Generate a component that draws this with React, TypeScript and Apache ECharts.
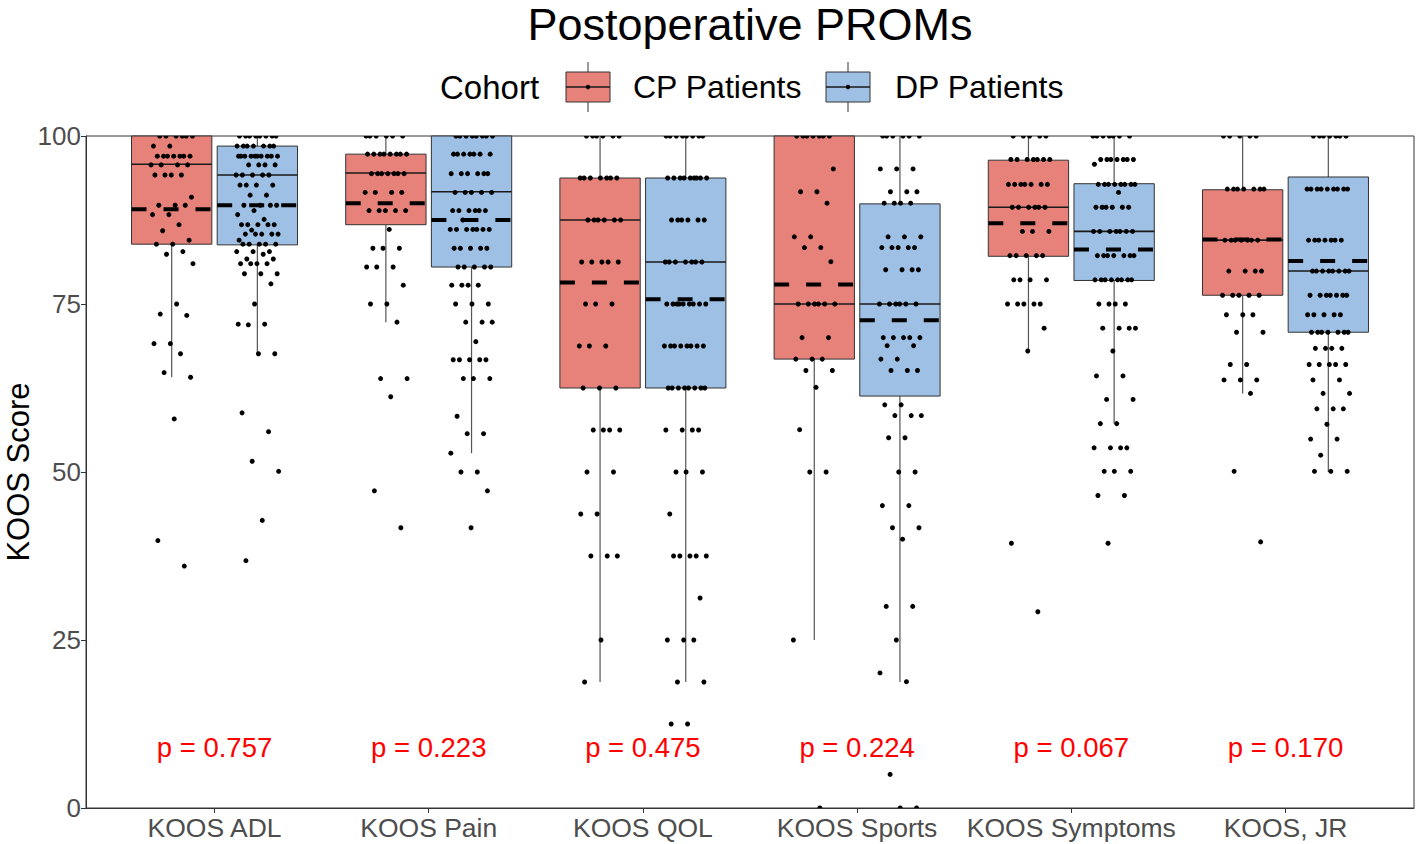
import React, { useEffect, useRef } from "react";
import * as echarts from "echarts";

const categories = ["KOOS ADL", "KOOS Pain", "KOOS QOL", "KOOS Sports", "KOOS Symptoms", "KOOS, JR"];
const cohorts = ["CP Patients", "DP Patients"];
const pValues = ["0.757", "0.223", "0.475", "0.224", "0.067", "0.170"];
const yTicks = [0, 25, 50, 75, 100];

// box statistics: [lower whisker, Q1, median, Q3, upper whisker]
const cpBox = [
  [64.1, 83.9, 95.8, 100, 100],
  [72.3, 86.8, 94.5, 97.3, 100],
  [18.75, 62.5, 87.5, 93.75, 100],
  [25, 66.8, 75, 100, 100],
  [68.0, 82.1, 89.4, 96.4, 100],
  [61.7, 76.3, 84.5, 92.0, 100],
];
const dpBox = [
  [67.7, 83.8, 94.2, 98.5, 100],
  [52.8, 80.5, 91.7, 100, 100],
  [18.75, 62.5, 81.25, 93.75, 100],
  [18.75, 61.3, 75, 89.9, 100],
  [57.2, 78.5, 85.8, 92.9, 100],
  [50, 70.8, 79.9, 93.9, 100],
];
const cpMean = [89.1, 90.0, 78.2, 77.9, 87.0, 84.6];
const dpMean = [89.7, 87.5, 75.7, 72.6, 83.1, 81.4];

// individual (jittered) patient scores
const adlCP = [100, 100, 100, 100, 100, 100, 98.5, 98.5, 97, 97, 97, 97, 97, 97, 97, 95.7, 95.7, 95.7, 95.7, 94.2, 94.2, 94.2, 94.2, 90.9, 89.7, 89.7, 89.7, 88.3, 88.3, 86.8, 85.9, 84.5, 83.9, 83.9, 82.8, 82.4, 81, 75, 73.5, 73.3, 69.1, 69.1, 67.6, 64.8, 64.1, 57.9, 39.8, 36];
const adlDP = [100, 100, 100, 100, 100, 100, 100, 100, 98.5, 98.5, 98.5, 98.5, 98.5, 98.5, 98.5, 97, 97, 97, 97, 97, 97, 97, 97, 97, 97, 95.7, 95.7, 95.7, 95.7, 94.2, 94.2, 94.2, 94.2, 94.2, 92.7, 92.7, 92.7, 92.7, 91.2, 91.2, 89.7, 89.7, 89.7, 89.7, 88.9, 88.3, 87.6, 86.8, 86.8, 86.8, 86.8, 86.8, 86, 85.4, 85.4, 85.4, 85.4, 85.4, 84.5, 83.9, 83.9, 83.9, 83.9, 83.9, 82.8, 82.8, 82.8, 82.4, 81.7, 81.7, 81, 81, 81, 81, 79.5, 79.5, 79.5, 78, 75, 72, 72, 71.9, 67.6, 67.6, 58.8, 56, 51.6, 50.1, 42.8, 36.8];
const painCP = [100, 100, 100, 100, 100, 100, 97.3, 97.3, 97.3, 97.3, 97.3, 97.3, 97.3, 97.3, 94.4, 94.4, 94.4, 94.4, 94.4, 94.4, 94.4, 91.6, 91.6, 91.6, 91.6, 88.9, 88.9, 88.9, 88.9, 88.9, 86.1, 83.3, 83.3, 83.3, 80.5, 80.5, 80.5, 77.8, 75, 75, 72.3, 63.9, 63.9, 61.2, 47.2, 41.7];
const painDP = [100, 100, 100, 100, 100, 100, 100, 100, 97.3, 97.3, 97.3, 97.3, 97.3, 97.3, 97.3, 94.4, 94.4, 94.4, 94.4, 94.4, 94.4, 91.6, 91.6, 91.6, 91.6, 91.6, 88.9, 88.9, 88.9, 88.9, 88.9, 88.9, 87.5, 86.1, 86.1, 86.1, 86.1, 86.1, 86.1, 86.1, 83.3, 83.3, 83.3, 83.3, 83.3, 80.5, 80.5, 80.5, 80.5, 80.5, 77.8, 77.8, 77.8, 77.8, 75, 75, 75, 72.3, 72.3, 72.3, 69.4, 66.7, 66.7, 66.7, 66.7, 66.7, 63.9, 63.9, 63.9, 58.3, 55.7, 55.7, 52.8, 50, 50, 47.2, 41.7];
const qolCP = [100, 100, 100, 100, 100, 100, 93.75, 93.75, 93.75, 93.75, 93.75, 93.75, 93.75, 87.5, 87.5, 87.5, 87.5, 87.5, 87.5, 81.25, 81.25, 81.25, 81.25, 81.25, 75, 75, 75, 68.75, 68.75, 68.75, 62.5, 62.5, 62.5, 56.25, 56.25, 56.25, 56.25, 50, 50, 43.75, 43.75, 37.5, 37.5, 37.5, 25, 18.75];
const qolDP = [100, 100, 100, 100, 100, 100, 100, 100, 93.75, 93.75, 93.75, 93.75, 93.75, 93.75, 93.75, 93.75, 93.75, 87.5, 87.5, 87.5, 87.5, 87.5, 87.5, 81.25, 81.25, 81.25, 81.25, 81.25, 81.25, 81.25, 75, 75, 75, 75, 75, 75, 75, 75, 75, 68.75, 68.75, 68.75, 68.75, 68.75, 68.75, 68.75, 68.75, 62.5, 62.5, 62.5, 62.5, 62.5, 62.5, 62.5, 62.5, 56.25, 56.25, 56.25, 56.25, 50, 50, 50, 43.75, 37.5, 37.5, 37.5, 37.5, 37.5, 31.25, 25, 25, 25, 18.75, 18.75, 12.5, 12.5];
const sportsCP = [100, 100, 100, 100, 100, 100, 100, 95.1, 91.7, 91.7, 90, 85, 85, 83.4, 83.4, 81.3, 75, 75, 75, 75, 75, 75, 70, 70, 66.8, 66.8, 66.8, 65.1, 65.1, 62.6, 56.3, 50, 50, 25, 0];
const sportsDP = [100, 100, 100, 100, 100, 100, 95.1, 95.1, 95.1, 91.7, 91.7, 91.7, 90, 90, 90, 90, 85, 85, 85, 83.4, 83.4, 83.4, 83.4, 83.4, 80.1, 80.1, 80.1, 80.1, 75, 75, 75, 75, 75, 75, 70, 70, 70, 70, 70, 68.8, 68.8, 66.8, 66.8, 65.1, 65.1, 65.1, 60, 60, 58.4, 58.4, 58.4, 55.1, 55.1, 50, 50, 45, 45, 41.7, 41.7, 40, 30, 30, 25, 20.1, 18.8, 5, 0, 0];
const symCP = [100, 100, 100, 100, 100, 96.5, 96.5, 96.5, 96.5, 96.5, 96.5, 96.5, 92.8, 92.8, 92.8, 92.8, 92.8, 92.8, 92.8, 89.4, 89.4, 89.4, 89.4, 89.4, 89.4, 85.8, 85.8, 85.8, 82.2, 82.2, 82.2, 82.2, 82.2, 78.6, 78.6, 78.6, 78.6, 75, 75, 75, 75, 75, 71.4, 68, 39.4, 29.2];
const symDP = [100, 100, 100, 100, 100, 100, 100, 96.5, 96.5, 96.5, 96.5, 96.5, 96.5, 96.5, 95.8, 92.8, 92.8, 92.8, 92.8, 92.8, 92.8, 92.8, 92.8, 91.6, 89.4, 89.4, 89.4, 89.4, 89.4, 89.4, 85.8, 85.8, 85.8, 85.8, 85.8, 85.8, 85.8, 82.2, 82.2, 82.2, 82.2, 82.2, 82.2, 82.2, 78.6, 78.6, 78.6, 78.6, 78.6, 78.6, 78.6, 78.6, 75, 75, 75, 75, 71.4, 71.4, 71.4, 71.4, 68, 64.3, 64.3, 60.8, 60.8, 57.2, 57.2, 53.6, 53.6, 53.6, 53.6, 50.1, 50.1, 50.1, 46.5, 46.5, 39.4];
const jrCP = [100, 100, 100, 100, 100, 92.1, 92.1, 92.1, 92.1, 92.1, 92.1, 92.1, 84.5, 84.5, 84.5, 84.5, 84.5, 84.5, 84.5, 79.9, 79.9, 79.9, 79.9, 76.3, 76.3, 76.3, 76.3, 76.3, 73.4, 73.4, 73.4, 70.8, 70.8, 66, 66, 63.7, 63.7, 63.7, 61.7, 50.1, 39.6];
const jrDP = [100, 100, 100, 100, 100, 100, 100, 92.1, 92.1, 92.1, 92.1, 92.1, 92.1, 92.1, 92.1, 92.1, 84.5, 84.5, 84.5, 84.5, 84.5, 84.5, 84.5, 79.9, 79.9, 79.9, 79.9, 79.9, 79.9, 79.9, 79.9, 76.3, 76.3, 76.3, 76.3, 76.3, 76.3, 76.3, 73.4, 73.4, 73.4, 73.4, 73.4, 70.8, 70.8, 70.8, 70.8, 70.8, 70.8, 70.8, 68.4, 68.4, 68.4, 68.4, 66, 66, 66, 66, 66, 63.7, 63.7, 61.7, 61.7, 59.4, 59.4, 59.4, 57.1, 54.9, 54.9, 52.5, 50.1, 50.1, 50.1];

const cpPoints = [adlCP, painCP, qolCP, sportsCP, symCP, jrCP];
const dpPoints = [adlDP, painDP, qolDP, sportsDP, symDP, jrDP];

const FONT = "'Liberation Sans', Arial, Helvetica, sans-serif";
const CP_FILL = "#E7827B";
const DP_FILL = "#9DC0E4";
const DODGE = 0.2;
const BOX_W = 0.375;
const JITTER = 0.1;
const P_LABEL_Y = 9;

const catPos = categories.map((_, i) => i + 1);

function boxData(stats: number[][]) {
  return stats.map((s, i) => [catPos[i], ...s]);
}
function meanData(means: number[]) {
  return means.map((m, i) => [catPos[i], m]);
}
function pointData(groups: number[][], dodge: number, phase: number) {
  const out: number[][] = [];
  groups.forEach((vals, gi) => {
    vals.forEach((v, i) => {
      const u = ((i + 1) * 0.6180339887 + gi * 0.29 + phase) % 1;
      out.push([catPos[gi] + dodge + (u - 0.5) * 2 * JITTER, v]);
    });
  });
  return out;
}

function boxRender(dodge: number, fill: string) {
  return (params: any, api: any) => {
    const x = api.value(0) + dodge;
    const low = api.coord([x, api.value(1)]);
    const q1 = api.coord([x, api.value(2)]);
    const med = api.coord([x, api.value(3)]);
    const q3 = api.coord([x, api.value(4)]);
    const high = api.coord([x, api.value(5)]);
    const hw = api.size([BOX_W, 0])[0] / 2;
    const cx = q1[0];
    return {
      type: "group",
      children: [
        { type: "line", shape: { x1: cx, y1: q3[1], x2: cx, y2: high[1] }, style: { stroke: "#555", lineWidth: 1.2 } },
        { type: "line", shape: { x1: cx, y1: q1[1], x2: cx, y2: low[1] }, style: { stroke: "#555", lineWidth: 1.2 } },
        { type: "rect", shape: { x: cx - hw, y: q3[1], width: hw * 2, height: q1[1] - q3[1] }, style: { fill, stroke: "#333", lineWidth: 1 } },
        { type: "line", shape: { x1: cx - hw, y1: med[1], x2: cx + hw, y2: med[1] }, style: { stroke: "#1a1a1a", lineWidth: 1.6 } },
      ],
    };
  };
}

function meanRender(dodge: number) {
  return (params: any, api: any) => {
    const p = api.coord([api.value(0) + dodge, api.value(1)]);
    const hw = api.size([BOX_W, 0])[0] / 2;
    return {
      type: "line",
      shape: { x1: p[0] - hw, y1: p[1], x2: p[0] + hw, y2: p[1] },
      style: { stroke: "#000", lineWidth: 4, lineDash: [15, 17], lineCap: "butt" },
    };
  };
}

function pointRender(params: any, api: any) {
  const p = api.coord([api.value(0), api.value(1)]);
  return { type: "circle", shape: { cx: p[0], cy: p[1], r: 2.5 }, style: { fill: "#000" } };
}

function pRender(params: any, api: any) {
  const i = params.dataIndex;
  const p = api.coord([api.value(0), api.value(1)]);
  return {
    type: "text",
    x: p[0],
    y: p[1],
    style: { text: "p = " + pValues[i], fill: "#FF0000", fontSize: 27.5, fontFamily: FONT, align: "center", verticalAlign: "middle" },
  };
}

function legendKey(x: number, fill: string) {
  return {
    type: "group",
    children: [
      { type: "line", shape: { x1: x + 22, y1: 62, x2: x + 22, y2: 112 }, style: { stroke: "#555", lineWidth: 1.2 } },
      { type: "rect", shape: { x, y: 72, width: 44, height: 30 }, style: { fill, stroke: "#333", lineWidth: 1 } },
      { type: "line", shape: { x1: x, y1: 87, x2: x + 44, y2: 87 }, style: { stroke: "#1a1a1a", lineWidth: 1.4 } },
      { type: "circle", shape: { cx: x + 22, cy: 87, r: 2.2 }, style: { fill: "#000" } },
    ],
  };
}

export default function App() {
  const ref = useRef<HTMLDivElement>(null);
  useEffect(() => {
    const chart = echarts.init(ref.current!, null, { renderer: "svg" });
    const option: any = {
      animation: false,
      backgroundColor: "#fff",
      grid: { left: 86, right: 2, top: 136, bottom: 36, show: true, borderColor: "#333", borderWidth: 1, backgroundColor: "transparent" },
      xAxis: {
        type: "value",
        min: 0.4,
        max: 6.6,
        axisLine: { show: true, onZero: false, lineStyle: { color: "#333", width: 1 } },
        axisTick: { show: true, customValues: catPos, length: 5, lineStyle: { color: "#333" } },
        axisLabel: {
          show: true,
          customValues: catPos,
          formatter: (v: number) => categories[Math.round(v) - 1] ?? "",
          fontSize: 26.5,
          color: "#4d4d4d",
          fontFamily: FONT,
          margin: 6,
        },
        splitLine: { show: false },
      },
      yAxis: {
        type: "value",
        min: 0,
        max: 100,
        interval: 25,
        axisLine: { show: true, lineStyle: { color: "#333", width: 1 } },
        axisTick: { show: true, length: 5, lineStyle: { color: "#333" } },
        axisLabel: { fontSize: 26, color: "#4d4d4d", fontFamily: FONT, margin: 5, formatter: (v: number) => (yTicks.includes(v) ? String(v) : "") },
        splitLine: { show: false },
      },
      graphic: [
        { type: "text", x: 750, y: 1, style: { text: "Postoperative PROMs", fontSize: 45, lineHeight: 46, fontFamily: FONT, fill: "#000", align: "center", verticalAlign: "top" } },
        { type: "text", x: 440, y: 87, style: { text: "Cohort", fontSize: 33, fontFamily: FONT, fill: "#000", align: "left", verticalAlign: "middle" } },
        legendKey(566, CP_FILL),
        { type: "text", x: 633, y: 87, style: { text: cohorts[0], fontSize: 32, fontFamily: FONT, fill: "#000", align: "left", verticalAlign: "middle" } },
        legendKey(826, DP_FILL),
        { type: "text", x: 895, y: 87, style: { text: cohorts[1], fontSize: 32, fontFamily: FONT, fill: "#000", align: "left", verticalAlign: "middle" } },
        { type: "text", x: 18, y: 472, rotation: Math.PI / 2, style: { text: "KOOS Score", fontSize: 31, fontFamily: FONT, fill: "#000", align: "center", verticalAlign: "middle" } },
      ],
      series: [
        { type: "custom", name: cohorts[0], z: 2, renderItem: boxRender(-DODGE, CP_FILL), data: boxData(cpBox), encode: { x: 0, y: [1, 2, 3, 4, 5] } },
        { type: "custom", name: cohorts[1], z: 2, renderItem: boxRender(DODGE, DP_FILL), data: boxData(dpBox), encode: { x: 0, y: [1, 2, 3, 4, 5] } },
        { type: "custom", name: cohorts[0] + " points", z: 3, clip: true, renderItem: pointRender, data: pointData(cpPoints, -DODGE, 0.13), encode: { x: 0, y: 1 } },
        { type: "custom", name: cohorts[1] + " points", z: 3, clip: true, renderItem: pointRender, data: pointData(dpPoints, DODGE, 0.61), encode: { x: 0, y: 1 } },
        { type: "custom", name: cohorts[0] + " mean", z: 4, renderItem: meanRender(-DODGE), data: meanData(cpMean), encode: { x: 0, y: 1 } },
        { type: "custom", name: cohorts[1] + " mean", z: 4, renderItem: meanRender(DODGE), data: meanData(dpMean), encode: { x: 0, y: 1 } },
        { type: "custom", name: "p values", z: 5, renderItem: pRender, data: catPos.map((c) => [c, P_LABEL_Y]), encode: { x: 0, y: 1 } },
      ],
    };
    chart.setOption(option);
    return () => chart.dispose();
  }, []);
  return <div ref={ref} style={{ position: "fixed", left: 0, top: 0, width: 1416, height: 844, background: "#fff" }} />;
}
